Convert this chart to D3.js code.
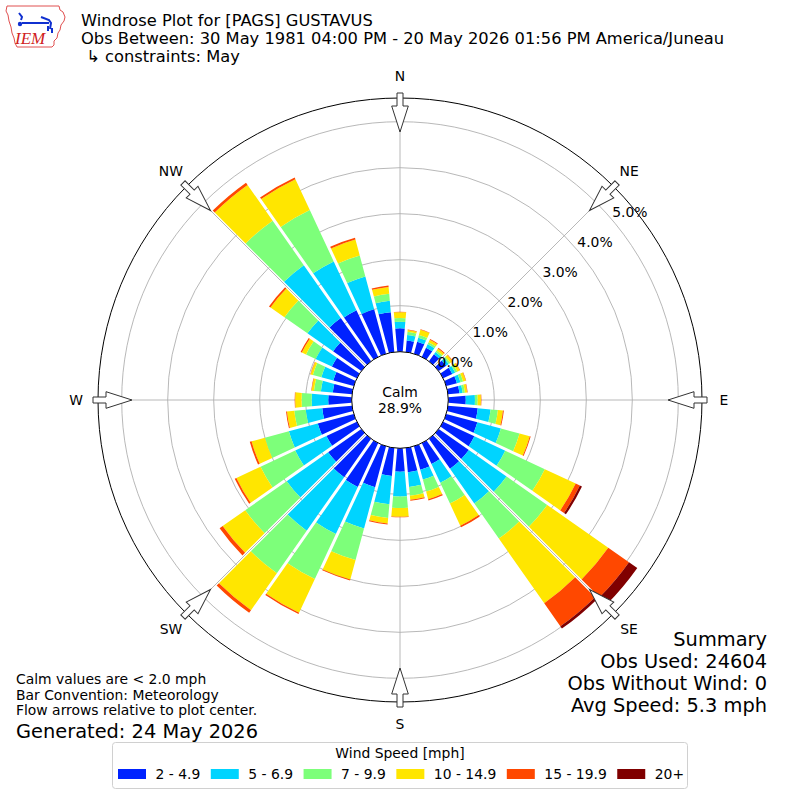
<!DOCTYPE html>
<html>
<head>
<meta charset="utf-8">
<script src="https://cdn.jsdelivr.net/npm/d3@7"></script>
<style>
  body { margin: 0; background: #fff; }
  svg { font-family: "DejaVu Sans", sans-serif; }
</style>
</head>
<body>
<svg id="chart" width="800" height="800"></svg>
<script>
// direction bins (degrees, meteorological, 10 deg sectors)
const directions = d3.range(0, 360, 10);
const speedLabels = ["2 - 4.9", "5 - 6.9", "7 - 9.9", "10 - 14.9", "15 - 19.9", "20+"];
const speedColors = ["#0022ff", "#00d4ff", "#7dff7a", "#ffe600", "#ff4800", "#800000"];

// percent of obs per direction, one array per speed class
const speed2to5 = [0.51, 0.25, 0.27, 0.22, 0.19, 0.20, 0.22, 0.24, 0.25, 0.38, 0.65, 0.70,
                   0.75, 0.80, 0.80, 0.50, 0.53, 0.53, 0.51, 0.61, 0.92, 1.05, 1.02, 0.88,
                   0.73, 0.81, 0.65, 0.51, 0.42, 0.46, 0.60, 0.75, 1.15, 1.12, 1.00, 0.87];
const speed5to7 = [0.14, 0.12, 0.09, 0.08, 0.06, 0.07, 0.07, 0.08, 0.07, 0.20, 0.28, 0.53,
                   0.74, 1.00, 0.92, 0.45, 0.22, 0.32, 0.54, 0.62, 0.93, 1.13, 1.42, 1.10,
                   0.75, 0.65, 0.36, 0.36, 0.26, 0.27, 0.39, 0.68, 1.40, 1.17, 0.74, 0.25];
const speed7to10 = [0.08, 0.07, 0.06, 0.05, 0.04, 0.04, 0.05, 0.06, 0.05, 0.06, 0.16, 0.42,
                    0.95, 1.08, 0.93, 0.50, 0.27, 0.19, 0.25, 0.30, 0.71, 1.08, 1.13, 1.10,
                    0.83, 0.54, 0.25, 0.22, 0.15, 0.19, 0.23, 0.61, 1.18, 1.23, 0.47, 0.15];
const speed10to15 = [0.13, 0.04, 0.12, 0.06, 0.05, 0.06, 0.06, 0.06, 0.05, 0.07, 0.11, 0.23,
                     0.74, 1.62, 1.72, 0.53, 0.17, 0.09, 0.19, 0.12, 0.44, 0.81, 0.98, 0.60,
                     0.58, 0.30, 0.16, 0.14, 0.05, 0.05, 0.10, 0.37, 0.95, 0.74, 0.36, 0.15];
const speed15to20 = [0.01, 0.01, 0.01, 0.02, 0.02, 0.01, 0.01, 0.01, 0.01, 0.01, 0.02, 0.02,
                     0.10, 0.55, 0.61, 0.04, 0.03, 0.02, 0.01, 0.02, 0.02, 0.03, 0.07, 0.08,
                     0.04, 0.04, 0.02, 0.01, 0.01, 0.01, 0.03, 0.04, 0.06, 0.04, 0.04, 0.03];
const speed20plus = [0, 0, 0, 0, 0, 0, 0, 0, 0, 0, 0, 0,
                     0.05, 0.22, 0.06, 0, 0, 0, 0, 0, 0, 0, 0, 0,
                     0, 0, 0, 0, 0, 0, 0, 0, 0, 0, 0, 0];

const ringTicks = [0, 1, 2, 3, 4, 5];
const compassLabels = ["N", "NE", "E", "SE", "S", "SW", "W", "NW"];
const calmPct = 28.9;

const titleLines = ["Windrose Plot for [PAGS] GUSTAVUS",
                    "Obs Between: 30 May 1981 04:00 PM - 20 May 2026 01:56 PM America/Juneau",
                    " \u21b3 constraints: May"];
const noteLines = ["Calm values are < 2.0 mph", "Bar Convention: Meteorology",
                   "Flow arrows relative to plot center."];
const generated = "Generated: 24 May 2026";
const summaryLines = ["Summary", "Obs Used: 24604", "Obs Without Wind: 0", "Avg Speed: 5.3 mph"];

const series = [speed2to5, speed5to7, speed7to10, speed10to15, speed15to20, speed20plus];
const keys = speedLabels;
const table = directions.map((dir, i) => {
    const row = { dir: dir };
    keys.forEach((k, j) => row[k] = series[j][i]);
    return row;
});

const svg = d3.select("#chart");
const cx = 400, cy = 400;
const outerR = 302;

const r = d3.scaleLinear().domain([0, 5.515]).range([48.3, outerR]);
const rad = d => d * Math.PI / 180;

const g = svg.append("g").attr("transform", `translate(${cx},${cy})`);

// grid rings and spokes
g.selectAll(".ring")
    .data(ringTicks.filter(t => t > 0))
    .enter().append("circle")
    .attr("r", d => r(d))
    .attr("fill", "none")
    .attr("stroke", "#b0b0b0")
    .attr("stroke-width", 0.9);

g.selectAll(".spoke")
    .data(d3.range(0, 360, 45))
    .enter().append("line")
    .attr("x1", 0).attr("y1", 0)
    .attr("x2", d => outerR * Math.sin(rad(d)))
    .attr("y2", d => -outerR * Math.cos(rad(d)))
    .attr("stroke", "#b0b0b0")
    .attr("stroke-width", 0.9);

// stacked bars
const stacked = d3.stack().keys(keys)(table);
const arc = d3.arc()
    .innerRadius(d => r(d[0]))
    .outerRadius(d => r(d[1]))
    .startAngle(d => rad(d.data.dir - 5))
    .endAngle(d => rad(d.data.dir + 5))
    .padAngle(0.03)
    .padRadius(100);

g.selectAll(".layer")
    .data(stacked)
    .enter().append("g")
    .attr("fill", (d, i) => speedColors[i])
    .selectAll("path")
    .data(d => d.filter(s => s[1] - s[0] > 0))
    .enter().append("path")
    .attr("d", arc);

// calm circle
g.append("circle")
    .attr("r", r(0))
    .attr("fill", "#fff")
    .attr("stroke", "#000")
    .attr("stroke-width", 1);
g.append("text").attr("y", -8).attr("text-anchor", "middle").attr("dominant-baseline", "central")
    .attr("font-size", 13.9).text("Calm");
g.append("text").attr("y", 8).attr("text-anchor", "middle").attr("dominant-baseline", "central")
    .attr("font-size", 13.9).text(calmPct.toFixed(1) + "%");

// outer frame
g.append("circle")
    .attr("r", outerR)
    .attr("fill", "none")
    .attr("stroke", "#000")
    .attr("stroke-width", 1);

// ring labels
const labAng = rad(49.4);
g.selectAll(".rlab")
    .data(ringTicks)
    .enter().append("text")
    .attr("x", d => r(d) * Math.sin(labAng) + 18.6)
    .attr("y", d => -r(d) * Math.cos(labAng) - 6.9)
    .attr("text-anchor", "middle")
    .attr("dominant-baseline", "central")
    .attr("font-size", 13.9)
    .text(d => d3.format(".1f")(d) + "%");

// compass labels
g.selectAll(".clab")
    .data(compassLabels)
    .enter().append("text")
    .attr("x", (d, i) => 324 * Math.sin(rad(i * 45)))
    .attr("y", (d, i) => -324 * Math.cos(rad(i * 45)))
    .attr("text-anchor", "middle")
    .attr("dominant-baseline", "central")
    .attr("font-size", 13.9)
    .text(d => d);

// flow arrows pointing to center
const arrowPts = [[-3, -307], [3, -307], [3, -294], [8.3, -294], [0, -268], [-8.3, -294], [-3, -294]];
g.selectAll(".arrow")
    .data(d3.range(0, 360, 45))
    .enter().append("path")
    .attr("d", d3.line()(arrowPts) + "Z")
    .attr("transform", d => `rotate(${d})`)
    .attr("fill", "#fff")
    .attr("stroke", "#333")
    .attr("stroke-width", 1);

// title
svg.selectAll(".title")
    .data(titleLines)
    .enter().append("text")
    .attr("x", 81)
    .attr("y", (d, i) => 26 + i * 18)
    .attr("font-size", 16.3)
    .attr("xml:space", "preserve")
    .style("white-space", "pre")
    .text(d => d);

// logo
const logo = svg.append("g").attr("transform", "translate(3,3)");
logo.append("path")
    .attr("d", "M4,3 L56,3 L57,7 L60,9 L62,14 L61,18 L58,22 L57,27 L55,30 L54,35 L51,38 L51,42 L49,44 L14,44 L12,40 L11,35 L9,30 L8,24 L6,18 L5,12 L3,8 Z")
    .attr("fill", "#fff")
    .attr("stroke", "#e05050")
    .attr("stroke-width", 1);
logo.append("path")
    .attr("d", "M16,10 L19,14 L18,17 M19,20 L46,20 M38,14 L46,17 L48,20 L47,26 M45,23 L45,28 M49,25 L49,30")
    .attr("fill", "none")
    .attr("stroke", "#1030d0")
    .attr("stroke-width", 2);
logo.append("circle").attr("cx", 17).attr("cy", 21).attr("r", 2.2).attr("fill", "#1030d0");
logo.append("text")
    .attr("x", 12).attr("y", 41)
    .attr("font-family", "Liberation Serif, serif")
    .attr("font-style", "italic")
    .attr("font-size", 17)
    .attr("fill", "#d02020")
    .text("IEM");

// notes lower left
svg.selectAll(".note")
    .data(noteLines)
    .enter().append("text")
    .attr("x", 16)
    .attr("y", (d, i) => 684 + i * 15.5)
    .attr("font-size", 13.9)
    .text(d => d);
svg.append("text")
    .attr("x", 16).attr("y", 737.5)
    .attr("font-size", 19.4)
    .text(generated);

// summary lower right
svg.selectAll(".summary")
    .data(summaryLines)
    .enter().append("text")
    .attr("x", 767)
    .attr("y", (d, i) => 646 + i * 22)
    .attr("text-anchor", "end")
    .attr("font-size", 19.4)
    .text(d => d);

// legend
const legend = svg.append("g");
legend.append("rect")
    .attr("x", 112.5).attr("y", 742.5)
    .attr("width", 575).attr("height", 46)
    .attr("rx", 3)
    .attr("fill", "#fff")
    .attr("stroke", "#d0d0d0");
legend.append("text")
    .attr("x", 400).attr("y", 753)
    .attr("text-anchor", "middle")
    .attr("dominant-baseline", "central")
    .attr("font-size", 13.9)
    .text("Wind Speed [mph]");

let lx = 118;
speedLabels.forEach((lab, i) => {
    legend.append("rect")
        .attr("x", lx).attr("y", 769)
        .attr("width", 28).attr("height", 10)
        .attr("fill", speedColors[i]);
    const t = legend.append("text")
        .attr("x", lx + 37.5).attr("y", 774)
        .attr("dominant-baseline", "central")
        .attr("font-size", 13.9)
        .text(lab);
    lx = lx + 37.5 + t.node().getComputedTextLength() + 10.5;
});
</script>
</body>
</html>
